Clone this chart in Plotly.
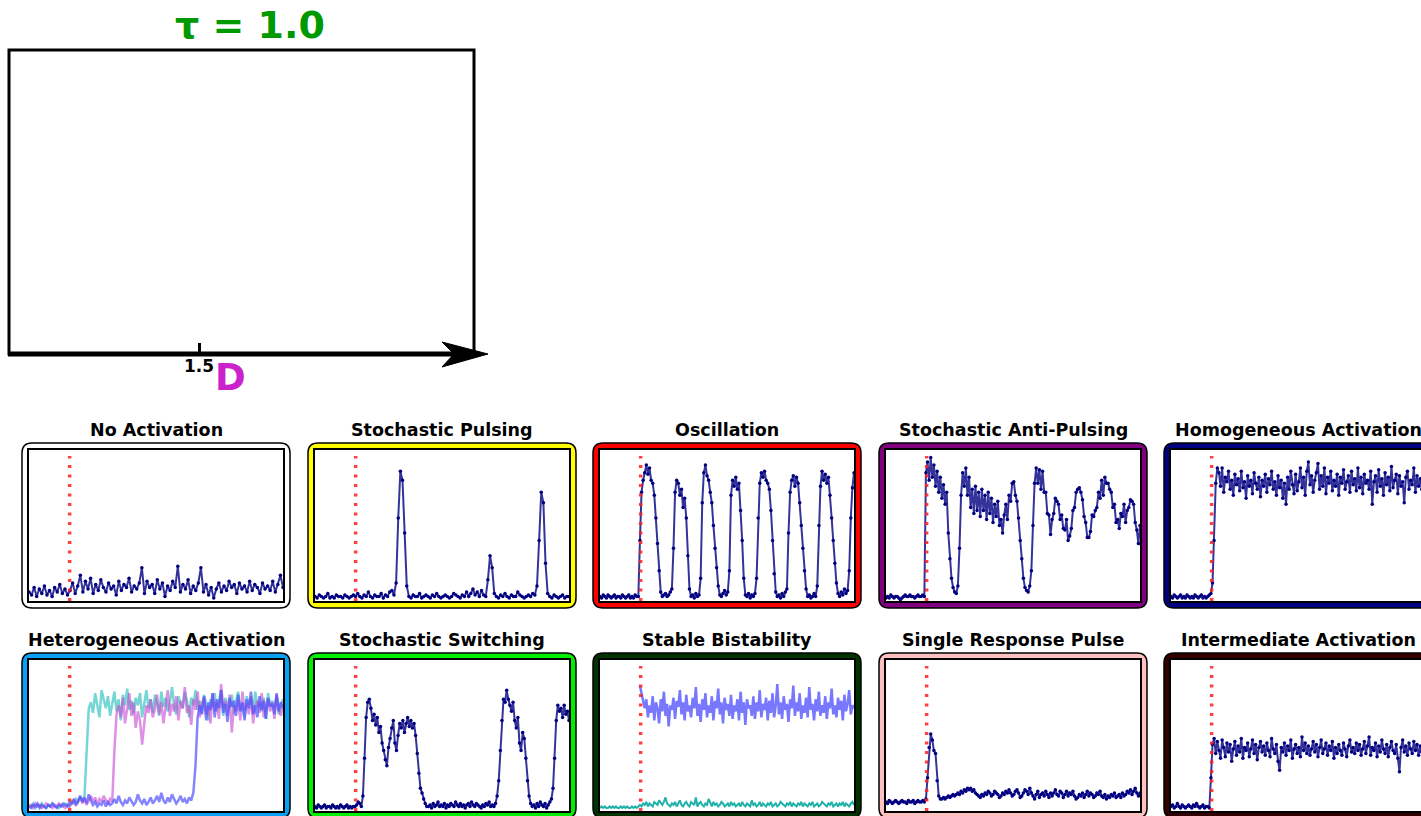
import numpy as np
import plotly.graph_objects as go

W, H = 1421, 816


def px(x):
    return x / W


def py(y):
    return 1 - y / H


# ---------------- data (fractions of panel height, x100) ----------------
STIM_T = 0.16
TAU_LABEL = "τ = 1.0"
D_TICKS = [1.5]
D_RANGE = [0, 3.67]

no_activation = [6,4,9,3,8,5,10,4,7,3, 9,6,11,5,8,4,7,12,5,10, 17,6,13,8,15,5,11,7,14,9,
                 6,12,8,10,4,13,7,11,9,15, 6,10,8,12,22,5,13,9,11,5, 14,8,12,3,10,7,13,9,23,6,
                 11,8,14,5,10,7,12,22,6,11, 4,9,2,8,12,6,10,7,13,9, 11,5,12,8,10,6,13,7,11,9,
                 5,12,8,10,7,13,6,11,17,9]

stochastic_pulsing = [3,2,4,3,2,3,5,2,3,2,4,3,3,2,4,3,2,3,4,3,5,3,2,4,3,6,3,2,4,3,3,5,2,4,3,6,7,4,
                      12,55,86,80,45,10,
                      3,2,4,3,3,5,2,3,4,3,2,4,3,5,3,2,3,4,3,2,3,5,4,3,2,4,3,6,3,5,8,4,6,3,7,4,3,
                      14,30,22,5,
                      3,2,4,3,5,3,2,4,3,3,6,4,3,2,3,4,3,5,4,
                      10,40,72,65,25,5,
                      3,2,4,3,2,3,4,2,3,3]

oscillation = [3,2,4,3,2,4,3,2,3,4,2,3,3,2,4,3,2,3,4,2,3,2,4,3,3,
               40,72,80,85,90,84,88,80,78,70,55,38,20,6,
               3,4,5,3,4,6,8,
               35,72,80,78,70,74,62,68,55,30,8,
               3,4,2,5,3,4,15,
               65,85,90,83,80,72,65,50,35,22,10,4,
               3,5,7,4,6,20,
               70,80,76,82,74,78,60,40,15,4,
               3,5,2,4,3,5,15,
               55,78,85,82,86,80,78,74,60,40,18,6,3,
               4,2,5,3,6,8,
               45,72,80,83,76,82,78,65,50,35,20,8,3,
               4,2,3,5,3,10,
               50,76,86,80,84,78,82,70,55,40,25,12,5,
               3,6,4,8,5,7,20,
               55,75,85]

anti_pulsing = [2,3,2,4,3,2,3,3,2,1,2,3,4,3,3,4,3,3,2,3,4,3,3,4,3,
                85,92,80,95,82,90,76,86,72,82,68,77,64,72,
                45,28,15,9,6,5,10,35,70,
                85,76,88,70,82,62,74,58,76,60,72,56,74,60,70,54,72,58,68,52,64,56,66,50,54,
                45,57,64,54,70,66,78,79,70,66,55,40,28,15,9,7,6,10,20,50,
                78,88,78,87,74,86,72,72,58,57,44,54,58,68,66,64,54,57,48,47,
                54,40,43,48,60,62,72,74,75,72,67,56,52,42,42,46,57,56,60,62,
                72,68,80,70,82,78,78,74,72,62,64,52,54,48,58,56,64,52,60,62,
                67,66,64,52,47,38,50]

homogeneous = [3,2,4,3,2,3,4,2,3,2,4,3,2,3,2,4,3,2,3,4,2,3,2,3,4,
               5,12,40,78,88,
               85,76,88,72,82,79,86,74,80,70, 84,77,81,73,86,75,79,68,83,76,
               80,71,85,78,74,82,69,80,76,84, 72,81,77,86,74,79,70,83,75,80,
               68,78,64,82,74,86,77,71,84,73, 79,88,75,82,70,86,92,77,83,72,
               80,85,91,74,83,76,88,71,82,78, 86,73,80,76,84,70,82,78,87,74,
               79,83,72,86,77,81,73,88,75,82, 71,84,78,80,74,86,64,79,83,72,
               87,76,81,70,85,77,82,73,89,75, 80,84,71,83,76,79,65,82,86,74,
               80,77,88,72,83,76,81,74,85,78]

hetero_cyan = [4,3,5,2,4,3,5,3,2,4,3,5,4,3,2,4,3,5,4,3,6,5,8,6,9,7,10,
               35,68,
               72,65,78,70,62,80,74,68,76,63, 71,79,66,74,60,77,70,81,67,73,
               64,75,70,78,62,72,80,68,74,65, 77,71,63,79,69,75,66,72,82,70,
               64,76,71,68,79,73,62,75,70,80, 67,73,65,77,71,60,74,69,78,66,
               72,80,63,75,70,68,77,64,73,79, 67,71,62,76,70,74,65,79,69,72,
               66,75,61,78,70,73,68,76,64,71, 74]
hetero_magenta = [3,4,2,5,3,4,2,3,5,4,3,2,4,3,5,4,3,2,4,3,5,7,4,6,9,5,8,4,7,10,6,9,5,8,6,10,7,5,8,6,
                  40,64,
                  70,62,75,58,68,78,63,72,55,66, 60,44,58,70,65,74,62,68,77,64,
                  72,58,69,80,63,71,66,76,60,73, 68,82,65,70,57,74,67,79,62,71,
                  75,64,70,58,78,66,72,61,84,68, 73,63,77,52,70,66,74,60,79,67,
                  71,64,76,58,69,73,65,78,62,70, 74,66,72,61,77,68,63,71]
hetero_blue = [3,2,4,3,5,2,4,3,2,4,3,5,3,2,4,3,5,4,3,6, 5,8,4,7,10,6,9,5,11,7,
               4,6,3,5,4,7,3,6,4,5, 8,5,10,6,4,7,5,9,6,4, 6,11,7,5,8,4,6,9,5,7,
               10,6,12,7,5,9,6,11,8,5, 7,10,6,8,5,9,7,12,
               30,62,
               70,64,76,60,72,67,78,62,74,68, 80,65,71,59,75,69,73,63,77,66,
               72,60,74,68,79,64,70,62,76,67, 73,61,75,69,71,64,78,66,72,68]

switching = [3,2,4,3,2,3,4,2,3,3,2,4,3,2,3,2,4,3,2,3,4,2,3,2,3,
             3,4,6,5,3,
             10,35,62,72,
             74,68,60,64,57,62,52,56,45,40,34,30,
             42,48,55,60,45,40,50,58,55,60,
             52,58,62,56,60,
             55,58,50,
             38,25,15,12,8,5,3,
             3,4,2,5,3,4,6,3,4,3, 5,2,4,3,5,4,3,6,4,3, 5,3,4,2,4,5,3,6,4,3,
             5,4,3,2,4,3,5,4,6,3, 4,3,
             5,10,20,40,60,74,
             72,80,74,70,66,72,60,55,62,45,40,52,48,35,20,10,
             5,3,4,2,5,3,6,4,3,5,2,4,6,
             8,15,35,60,70,66,
             68,62,70,64,66,60]

bistable_high = [83,78,72,68,74,62,70,65,76,60, 72,68,58,74,66,79,63,71,56,70,
                 67,75,61,73,69,80,64,72,60,77, 66,70,62,75,68,82,63,71,59,74,
                 67,78,62,70,65,76,60,73,68,81, 64,72,58,75,67,71,63,77,61,70,
                 66,74,60,79,65,72,57,74,68,70, 63,76,61,72,66,80,62,71,67,75,
                 60,73,65,78,62,70,84,64,72,61, 76,67,71,59,74,68,83,63,72,66,
                 78,61,70,65,75,62,82,67,71,60, 74,66,79,63,70,65,76,61,72,68,
                 81,64,70,62,75,67,73,60,77,66, 71,80,64,70,68]
bistable_low = [2,3,2,3,2,2,3,2,3,2,3,2,2,3,2,3,2,3,2,2,3,2,3,2,3,
                4,3,5,4,6,3,5,4,3,6,5,4,7,5,4,6,9,5,4,3,
                5,4,6,3,5,7,4,3,5,6,4,3,6,5,4,9,3,5,6,4,
                3,5,4,8,5,3,6,4,5,3,4,6,5,3,4,5,3,6,4,5,
                3,4,5,3,6,4,3,5,4,3,7,4,5,3,4,6,3,5,4,3,
                5,4,6,3,4,5,3,4,6,5,4,3,5,4,6,3,5,4,3,5,
                4,6,3,5,4,3,5,4,6,3,4,5,3,4,6,5,4,3,5,4,
                6,3,4,5,3,5,4,6,3,5,4,3,5,6,4]

single_pulse = [6,5,7,6,5,6,7,6,5,6,7,6,6,5,7,6,6,7,5,6,7,6,6,7,6,
                8,22,42,51,47,40,38,20,10,8,
                8,9,8,9,10,9,10,11,10,11, 12,11,13,12,14,13,15,14,15,13,
                14,12,11,10,9,11,10,12,11,13, 12,10,11,13,12,11,9,10,12,11,
                13,12,14,12,10,11,13,14,12,9, 10,12,14,13,11,15,12,10,8,11,
                13,9,11,12,10,13,11,9,12,10, 12,14,11,10,13,12,9,11,13,10,
                12,11,13,10,8,9,11,10,12,9, 11,13,10,12,11,9,10,12,11,13,
                10,9,11,8,10,9,11,10,12,9, 10,11,9,12,10,11,13,12,14,11,
                13,15,12,10,12]

intermediate = [3,4,2,3,5,3,2,4,3,2,3,4,3,2,4,3,5,3,2,3,4,2,3,3,2,
                22,44,48,38,46,
                40,35,47,42,36,45,39,44,33,41, 46,37,43,39,48,35,42,40,45,36,
                41,47,38,44,34,42,46,39,43,37, 45,40,36,48,41,38,44,33,27,42,
                39,45,37,43,40,47,35,41,44,38, 42,36,49,40,45,38,43,37,41,46,
                39,44,36,42,47,38,41,45,37,43, 40,46,35,42,38,44,40,37,45,41,
                36,43,47,39,42,38,45,40,44,37, 41,46,38,43,49,37,42,40,45,36,
                43,39,47,41,38,44,36,42,46,40, 38,44,35,26,42,47,39,43,37,45,
                41,38,46,40,44,37,43,39,45,41]

titles = ["No Activation", "Stochastic Pulsing", "Oscillation", "Stochastic Anti-Pulsing",
          "Homogeneous Activation", "Heterogeneous Activation", "Stochastic Switching",
          "Stable Bistability", "Single Response Pulse", "Intermediate Activation"]
border_colors = ["#ffffff", "#ffff00", "#ff0000", "#800080", "#000080",
                 "#0aa0f5", "#00ee00", "#003300", "#ffc0c0", "#330000"]

# ---------------- styles ----------------
NAVY = dict(mode="lines+markers", line=dict(color="rgba(0,0,128,0.8)", width=2),
            marker=dict(color="#000080", size=3.5))


def lines(color, width):
    return dict(mode="lines", line=dict(color=color, width=width))


panel_traces = [
    [(no_activation, NAVY)],
    [(stochastic_pulsing, NAVY)],
    [(oscillation, NAVY)],
    [(anti_pulsing, NAVY)],
    [(homogeneous, NAVY)],
    [(hetero_cyan, lines("rgba(72,200,200,0.75)", 2.5)),
     (hetero_magenta, lines("rgba(200,70,210,0.6)", 2.5)),
     (hetero_blue, lines("rgba(80,80,255,0.7)", 2.5))],
    [(switching, NAVY)],
    [(bistable_high, lines("#7878ff", 2.5)),
     (bistable_low, lines("#20b2aa", 2))],
    [(single_pulse, NAVY)],
    [(intermediate, NAVY)],
]

# ---------------- geometry (pixels) ----------------
col_outer = [(22, 290), (308, 576), (593, 861), (879, 1147), (1164, 1432)]
row_outer = [(443, 608), (653, 818)]
row_title_y = [430, 640]
BAND = 7
RADIUS = 10


def rrect_path(x0, y0, x1, y1, r):
    pts = [("M", x0 + r, y0), ("L", x1 - r, y0), ("Q", x1, y0, x1, y0 + r),
           ("L", x1, y1 - r), ("Q", x1, y1, x1 - r, y1), ("L", x0 + r, y1),
           ("Q", x0, y1, x0, y1 - r), ("L", x0, y0 + r), ("Q", x0, y0, x0 + r, y0)]
    out = []
    for p in pts:
        cmd = p[0]
        coords = p[1:]
        s = []
        for i in range(0, len(coords), 2):
            s.append(f"{px(coords[i]):.6f},{py(coords[i + 1]):.6f}")
        out.append(cmd + " " + " ".join(s))
    return " ".join(out) + " Z"


fig = go.Figure()
shapes = []
annotations = []
layout_axes = {}

FONT = "DejaVu Sans, Verdana, sans-serif"

# ---------------- top panel ----------------
top_x0, top_y0, top_x1, top_y1 = 9, 50, 474, 354
layout_axes["xaxis"] = dict(domain=[px(top_x0), px(top_x1)], range=D_RANGE, anchor="y",
                            tickvals=D_TICKS, ticktext=[f"<b>{v}</b>" for v in D_TICKS],
                            ticks="inside", ticklen=11, tickwidth=3, tickcolor="black",
                            tickfont=dict(family=FONT, size=17, color="black"),
                            showline=False, showgrid=False, zeroline=False, fixedrange=True)
layout_axes["yaxis"] = dict(domain=[py(top_y1), py(top_y0)], range=[0, 1], anchor="x",
                            visible=False, fixedrange=True)
fig.add_trace(go.Scatter(x=[], y=[], xaxis="x", yaxis="y", showlegend=False))

shapes.append(dict(type="rect", xref="paper", yref="paper", x0=px(top_x0), x1=px(top_x1),
                   y0=py(top_y1), y1=py(top_y0), line=dict(color="black", width=3)))
shapes.append(dict(type="line", xref="paper", yref="paper", x0=px(top_x0 - 1), x1=px(466),
                   y0=py(top_y1), y1=py(top_y1), line=dict(color="black", width=5)))
arrow = (f"M {px(442):.6f},{py(342):.6f} L {px(488):.6f},{py(354):.6f} "
         f"L {px(442):.6f},{py(367):.6f} L {px(454):.6f},{py(354):.6f} Z")
shapes.append(dict(type="path", xref="paper", yref="paper", path=arrow,
                   fillcolor="black", line=dict(color="black", width=1)))
annotations.append(dict(text=f"<b>{TAU_LABEL}</b>", xref="paper", yref="paper",
                        x=px(250), y=py(25), showarrow=False, xanchor="center", yanchor="middle",
                        font=dict(family=FONT, size=38, color="#009900")))
annotations.append(dict(text="<b>D</b>", xref="paper", yref="paper",
                        x=px(230), y=py(377), showarrow=False, xanchor="center", yanchor="middle",
                        font=dict(family=FONT, size=37, color="#cc22cc")))

# ---------------- small panels ----------------
for k in range(10):
    r, c = divmod(k, 5)
    ox0, ox1 = col_outer[c]
    oy0, oy1 = row_outer[r]
    ix0, ix1 = ox0 + BAND, ox1 - BAND
    iy0, iy1 = oy0 + BAND, oy1 - BAND
    shapes.append(dict(type="path", xref="paper", yref="paper", layer="below",
                       path=rrect_path(ox0, oy0, ox1, oy1, RADIUS),
                       fillcolor=border_colors[k], line=dict(color="black", width=1.5)))
    shapes.append(dict(type="rect", xref="paper", yref="paper", layer="below",
                       x0=px(ix0), x1=px(min(ix1, W)), y0=py(iy1), y1=py(iy0),
                       fillcolor="white", line=dict(width=0)))
    ax = k + 2
    right = min(ix1, W)
    xmax = (right - ix0) / (ix1 - ix0)
    clipped = ix1 > W
    layout_axes[f"xaxis{ax}"] = dict(domain=[px(ix0), px(right)], range=[0, xmax], anchor=f"y{ax}",
                                     showline=True, mirror=True, linecolor="black", linewidth=1.5,
                                     showticklabels=False, ticks="", showgrid=False,
                                     zeroline=False, fixedrange=True)
    layout_axes[f"yaxis{ax}"] = dict(domain=[py(iy1), py(iy0)], range=[0, 1], anchor=f"x{ax}",
                                     showline=True, mirror=not clipped, linecolor="black",
                                     linewidth=1.5, showticklabels=False, ticks="",
                                     showgrid=False, zeroline=False, fixedrange=True)
    for vals, style in panel_traces[k]:
        n_full = 160 if len(vals) < 160 and len(vals) > 120 else len(vals)
        t = np.linspace(0, 1, n_full)[n_full - len(vals):]
        fig.add_trace(go.Scatter(x=t, y=np.array(vals) / 100.0, xaxis=f"x{ax}", yaxis=f"y{ax}",
                                 showlegend=False, hoverinfo="skip", **style))
    fig.add_trace(go.Scatter(x=[STIM_T, STIM_T], y=[0, 0.96], mode="lines",
                             line=dict(color="rgba(255,30,30,0.85)", width=3.5, dash="3px,6.5px"),
                             xaxis=f"x{ax}", yaxis=f"y{ax}", showlegend=False, hoverinfo="skip"))
    annotations.append(dict(text=f"<b>{titles[k]}</b>", xref="paper", yref="paper",
                            x=px((ox0 + ox1) / 2), y=py(row_title_y[r]), showarrow=False,
                            xanchor="center", yanchor="middle",
                            font=dict(family=FONT, size=17.5, color="black")))

fig.update_layout(width=W, height=H, autosize=False,
                  margin=dict(l=0, r=0, t=0, b=0, pad=0),
                  paper_bgcolor="white", plot_bgcolor="white",
                  showlegend=False, shapes=shapes, annotations=annotations,
                  **layout_axes)

fig.write_html("out.html", config={"displayModeBar": False},
               post_script="document.body.style.margin='0';document.body.style.overflow='hidden';")
